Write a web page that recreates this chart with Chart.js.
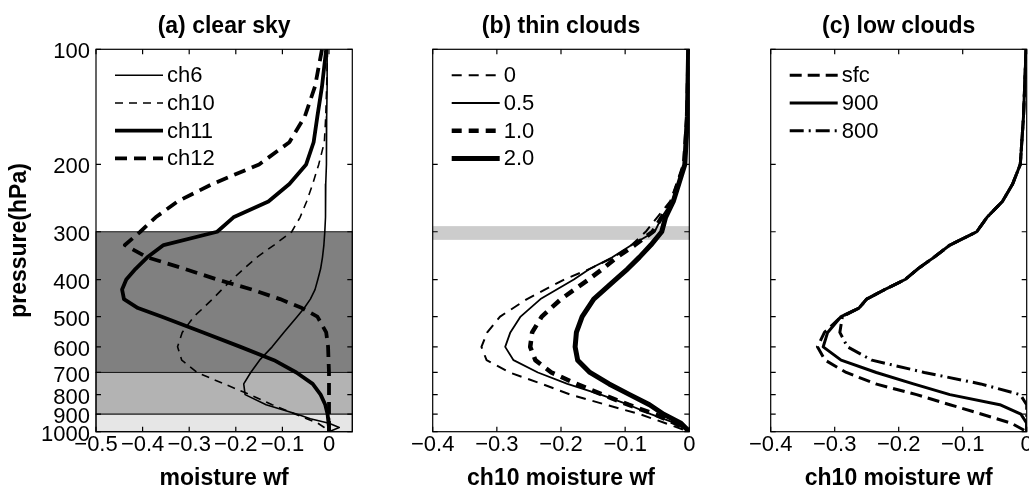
<!DOCTYPE html>
<html>
<head>
<meta charset="utf-8">
<script src="https://cdn.jsdelivr.net/npm/chart.js@4.4.1/dist/chart.umd.min.js"></script>
<style>
  body { margin: 0; background: #fff; width: 1029px; height: 485px; overflow: hidden; position: relative; }
  canvas { position: absolute; top: 0; }
</style>
</head>
<body>
<canvas id="chartA" width="362" height="485" style="left:0px"></canvas>
<canvas id="chartB" width="340" height="485" style="left:362px"></canvas>
<canvas id="chartC" width="340" height="485" style="left:702px"></canvas>
<script>
// pressure levels (hPa) and tick values
const pTicks = [100, 200, 300, 400, 500, 600, 700, 800, 900, 1000];
const xTicksA = [-0.5, -0.4, -0.3, -0.2, -0.1, 0];
const xTicksBC = [-0.4, -0.3, -0.2, -0.1, 0];

// (a) clear sky
const pressA = [100, 125, 150, 175, 200, 225, 250, 275, 300, 325, 350, 375, 400, 425, 450, 475, 500, 550, 600, 650, 700, 750, 800, 850, 900, 925, 950, 975, 1000];
const ch6  = [-0.004, -0.004, -0.005, -0.005, -0.006, -0.007, -0.007, -0.008, -0.009, -0.011, -0.014, -0.018, -0.024, -0.03, -0.04, -0.053, -0.068, -0.097, -0.122, -0.149, -0.168, -0.183, -0.18, -0.135, -0.068, -0.04, 0.0, 0.022, 0.0];
const ch10 = [-0.003, -0.005, -0.007, -0.01, -0.022, -0.035, -0.048, -0.062, -0.08, -0.118, -0.155, -0.183, -0.208, -0.23, -0.25, -0.27, -0.29, -0.315, -0.325, -0.316, -0.283, -0.225, -0.17, -0.122, -0.072, -0.048, -0.024, -0.01, 0.0];
const ch11 = [-0.006, -0.015, -0.025, -0.033, -0.049, -0.085, -0.13, -0.205, -0.24, -0.355, -0.39, -0.415, -0.435, -0.444, -0.44, -0.41, -0.36, -0.27, -0.19, -0.118, -0.07, -0.035, -0.018, -0.008, -0.003, -0.002, -0.001, 0.0, 0.0];
const ch12 = [-0.015, -0.03, -0.052, -0.085, -0.15, -0.25, -0.325, -0.372, -0.405, -0.438, -0.39, -0.31, -0.24, -0.165, -0.105, -0.058, -0.025, -0.006, -0.002, -0.001, 0.0, 0.0, 0.0, 0.0, 0.0, 0.0, 0.0, 0.0, 0.0];
const bandsA = [[300, 700], [700, 900], [900, 1000]];

// (b) thin clouds
const pressB = [100, 150, 200, 250, 275, 300, 325, 350, 375, 400, 450, 500, 550, 600, 650, 700, 750, 800, 850, 900, 950, 1000];
const thin0  = [-0.001, -0.003, -0.009, -0.03, -0.05, -0.068, -0.09, -0.118, -0.155, -0.195, -0.253, -0.295, -0.315, -0.324, -0.316, -0.28, -0.23, -0.185, -0.13, -0.077, -0.037, 0.0];
const thin05 = [-0.001, -0.003, -0.008, -0.027, -0.043, -0.054, -0.09, -0.12, -0.155, -0.18, -0.232, -0.263, -0.279, -0.287, -0.274, -0.236, -0.19, -0.138, -0.095, -0.06, -0.022, 0.0];
const thin10 = [-0.001, -0.003, -0.008, -0.027, -0.043, -0.057, -0.085, -0.113, -0.135, -0.157, -0.2, -0.23, -0.245, -0.248, -0.24, -0.215, -0.176, -0.135, -0.095, -0.054, -0.022, 0.0];
const thin20 = [-0.001, -0.003, -0.007, -0.025, -0.037, -0.043, -0.06, -0.078, -0.096, -0.115, -0.149, -0.167, -0.176, -0.178, -0.174, -0.155, -0.125, -0.093, -0.062, -0.04, -0.013, 0.0];
const bandsB = [[290, 315]];

// (c) low clouds
const pressC = [100, 150, 200, 225, 250, 275, 300, 325, 350, 375, 400, 425, 450, 475, 500, 550, 600, 650, 700, 750, 800, 850, 900, 950, 1000];
const lowSfc = [-0.001, -0.005, -0.01, -0.022, -0.038, -0.062, -0.078, -0.12, -0.145, -0.17, -0.19, -0.222, -0.25, -0.262, -0.29, -0.316, -0.327, -0.315, -0.282, -0.236, -0.172, -0.12, -0.07, -0.024, 0.0];
const low900 = [-0.001, -0.005, -0.01, -0.022, -0.038, -0.062, -0.078, -0.12, -0.145, -0.17, -0.19, -0.222, -0.25, -0.262, -0.29, -0.311, -0.318, -0.29, -0.235, -0.177, -0.12, -0.042, -0.009, 0.0, 0.0];
const low800 = [-0.001, -0.005, -0.01, -0.022, -0.038, -0.062, -0.078, -0.12, -0.145, -0.17, -0.19, -0.222, -0.25, -0.262, -0.288, -0.292, -0.28, -0.242, -0.16, -0.072, -0.01, 0.0, 0.0, 0.0, 0.0];

Chart.defaults.font.family = "'Liberation Sans', Arial, Helvetica, sans-serif";
Chart.defaults.color = '#000';

function pts(vals, press) {
  return vals.map((v, i) => ({ x: v, y: press[i] }));
}

function fmtX(v) {
  if (Math.abs(v) < 1e-9) return '0';
  return (v < 0 ? '\u2212' : '') + Math.abs(v).toFixed(1);
}

// shaded pressure layers
const bandPlugin = {
  id: 'bands',
  beforeDatasetsDraw(chart, args, opts) {
    if (!opts.ranges) return;
    const { ctx, chartArea: a } = chart;
    const y = chart.scales.y;
    ctx.save();
    opts.ranges.forEach((r, i) => {
      const y0 = y.getPixelForValue(r[0]);
      const y1 = y.getPixelForValue(r[1]);
      ctx.fillStyle = opts.colors[i];
      ctx.fillRect(a.left, y0, a.right - a.left, y1 - y0);
      if (opts.edge) {
        ctx.strokeStyle = opts.edge;
        ctx.lineWidth = 1;
        ctx.strokeRect(a.left, y0, a.right - a.left, y1 - y0);
      }
    });
    ctx.restore();
  }
};

// matlab style box with inward ticks
const framePlugin = {
  id: 'frame',
  afterDraw(chart) {
    const { ctx, chartArea: a } = chart;
    const xs = chart.scales.x, ys = chart.scales.y;
    const tl = 5;
    ctx.save();
    ctx.strokeStyle = '#000';
    ctx.lineWidth = 1.2;
    ctx.beginPath();
    xs.ticks.forEach(t => {
      const px = xs.getPixelForValue(t.value);
      ctx.moveTo(px, a.bottom); ctx.lineTo(px, a.bottom - tl);
      ctx.moveTo(px, a.top); ctx.lineTo(px, a.top + tl);
    });
    ys.ticks.forEach(t => {
      const py = ys.getPixelForValue(t.value);
      ctx.moveTo(a.left, py); ctx.lineTo(a.left + tl, py);
      ctx.moveTo(a.right, py); ctx.lineTo(a.right - tl, py);
    });
    ctx.stroke();
    ctx.strokeRect(a.left, a.top, a.right - a.left, a.bottom - a.top);
    ctx.restore();
  }
};

// legend drawn inside the axes, top left
const lineLegend = {
  id: 'lineLegend',
  afterDatasetsDraw(chart, args, opts) {
    const { ctx, chartArea: a } = chart;
    ctx.save();
    ctx.font = '22px ' + Chart.defaults.font.family;
    ctx.textBaseline = 'middle';
    ctx.fillStyle = '#000';
    chart.data.datasets.forEach((ds, i) => {
      const y = a.top + opts.y0 + i * opts.dy;
      ctx.strokeStyle = '#000';
      ctx.lineWidth = ds.borderWidth;
      ctx.setLineDash(ds.borderDash || []);
      ctx.beginPath();
      ctx.moveTo(a.left + opts.x0, y);
      ctx.lineTo(a.left + opts.x1, y);
      ctx.stroke();
      ctx.setLineDash([]);
      ctx.fillText(ds.label, a.left + opts.x1 + 4, y + 1);
    });
    ctx.restore();
  }
};

function makeChart(id, c) {
  return new Chart(document.getElementById(id), {
    type: 'line',
    data: { datasets: c.datasets },
    options: {
      responsive: false,
      animation: false,
      devicePixelRatio: 1,
      layout: { padding: { left: 0, right: c.rightPad, top: 0, bottom: 0 } },
      elements: {
        point: { radius: 0 },
        line: { tension: 0, borderColor: '#000', fill: false, borderCapStyle: 'butt', borderJoinStyle: 'round' }
      },
      scales: {
        x: {
          type: 'linear',
          min: c.xmin, max: c.xmax,
          grid: { display: false, drawTicks: false },
          border: { display: false },
          afterBuildTicks: s => { s.ticks = c.xTicks.map(v => ({ value: v })); },
          afterFit: s => { s.height = 53.3; },
          ticks: {
            autoSkip: false, maxRotation: 0, padding: 0,
            font: { size: 22 }, color: '#000',
            callback: v => fmtX(v)
          },
          title: {
            display: true, text: c.xTitle, color: '#000',
            font: { size: 23, weight: 'bold' },
            padding: { top: 0, bottom: -7 }
          }
        },
        y: {
          type: 'logarithmic',
          min: 100, max: 1000, reverse: true,
          grid: { display: false, drawTicks: false },
          border: { display: false },
          afterBuildTicks: s => { s.ticks = pTicks.map(v => ({ value: v })); },
          afterFit: s => { s.width = c.leftWidth; },
          ticks: {
            display: c.showY, padding: 6, labelOffset: 3,
            font: { size: 22 }, color: '#000',
            callback: v => String(v)
          },
          title: {
            display: c.showY, text: 'pressure(hPa)', color: '#000',
            font: { size: 23, weight: 'bold' },
            padding: { top: 5.8, bottom: 0 }
          }
        }
      },
      plugins: {
        legend: { display: false },
        tooltip: { enabled: false },
        title: {
          display: true, text: c.title, color: '#000', fullSize: false,
          font: { size: 23, weight: 'bold' },
          padding: { top: 12.5, bottom: 9.2 }
        },
        bands: c.bands || {},
        lineLegend: { x0: 19, x1: 67, y0: 26, dy: 27.7 }
      }
    },
    plugins: [bandPlugin, lineLegend, framePlugin]
  });
}

makeChart('chartA', {
  title: '(a) clear sky',
  xTitle: 'moisture wf',
  xmin: -0.5, xmax: 0.05, xTicks: xTicksA,
  leftWidth: 96, rightPad: 9.7, showY: true,
  bands: { ranges: bandsA, colors: ['#808080', '#b3b3b3', '#e6e6e6'], edge: '#1a1a1a' },
  datasets: [
    { label: 'ch6',  data: pts(ch6, pressA),  borderWidth: 1.6, borderDash: [] },
    { label: 'ch10', data: pts(ch10, pressA), borderWidth: 1.6, borderDash: [8, 6] },
    { label: 'ch11', data: pts(ch11, pressA), borderWidth: 3.8, borderDash: [] },
    { label: 'ch12', data: pts(ch12, pressA), borderWidth: 3.8, borderDash: [12, 7] }
  ]
});

makeChart('chartB', {
  title: '(b) thin clouds',
  xTitle: 'ch10 moisture wf',
  xmin: -0.4, xmax: 0, xTicks: xTicksBC,
  leftWidth: 70.7, rightPad: 12.7, showY: false,
  bands: { ranges: bandsB, colors: ['#cccccc'] },
  datasets: [
    { label: '0',   data: pts(thin0, pressB),  borderWidth: 2,   borderDash: [10, 7] },
    { label: '0.5', data: pts(thin05, pressB), borderWidth: 1.8, borderDash: [] },
    { label: '1.0', data: pts(thin10, pressB), borderWidth: 4.5, borderDash: [10, 7] },
    { label: '2.0', data: pts(thin20, pressB), borderWidth: 5,   borderDash: [] }
  ]
});

makeChart('chartC', {
  title: '(c) low clouds',
  xTitle: 'ch10 moisture wf',
  xmin: -0.4, xmax: 0, xTicks: xTicksBC,
  leftWidth: 68.7, rightPad: 15.3, showY: false,
  datasets: [
    { label: 'sfc', data: pts(lowSfc, pressC), borderWidth: 3, borderDash: [12, 6] },
    { label: '900', data: pts(low900, pressC), borderWidth: 3, borderDash: [] },
    { label: '800', data: pts(low800, pressC), borderWidth: 3, borderDash: [14, 5, 2, 5] }
  ]
});
</script>
</body>
</html>
